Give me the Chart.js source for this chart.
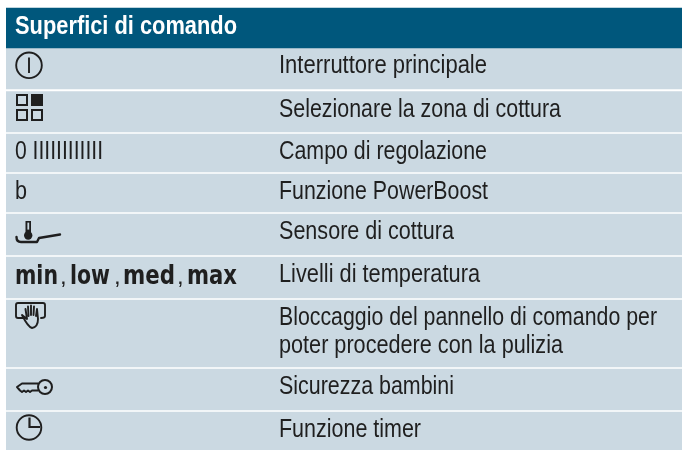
<!DOCTYPE html>
<html>
<head>
<meta charset="utf-8">
<style>
  html, body { margin: 0; padding: 0; background: #fff; }
  canvas { display: block; }
</style>
<script src="https://cdn.jsdelivr.net/npm/chart.js@4"></script>
</head>
<body>
<canvas id="table-chart" width="682" height="450"></canvas>
<script>
// Control panel table drawn as floating bars, one band per row on a reversed y axis.
const TITLE = 'Superfici di comando';
const ROW_TOPS    = [48, 91.5, 134, 174, 214, 257, 300, 369, 412];
const ROW_BOTTOMS = [89, 132, 172, 212, 255, 298, 367, 410, 450];
const HEADER_SPAN = [8, 48];
const ROW_SYMBOLS = ['power', 'zones', '0 IIIIIIIIIIII', 'b', 'sensor', 'levels', 'hand', 'key', 'clock'];
const ROW_TEXTS = [
  ['Interruttore principale'],
  ['Selezionare la zona di cottura'],
  ['Campo di regolazione'],
  ['Funzione PowerBoost'],
  ['Sensore di cottura'],
  ['Livelli di temperatura'],
  ['Bloccaggio del pannello di comando per', 'poter procedere con la pulizia'],
  ['Sicurezza bambini'],
  ['Funzione timer'],
];
const LEVELS = ['min', 'low', 'med', 'max'];

const HEADER_COLOR = '#00577c';
const ROW_COLOR    = '#cbd9e2';
const INK          = '#1f1f1f';
const BODY_FONT    = '"Liberation Sans", sans-serif';
// No narrow face is installed, so lines are squeezed to the width they have in the picture.
const TEXT_WIDTHS = {
  'Interruttore principale': 208,
  'Selezionare la zona di cottura': 282,
  'Campo di regolazione': 208,
  'Funzione PowerBoost': 209,
  'Sensore di cottura': 175,
  'Livelli di temperatura': 201,
  'Bloccaggio del pannello di comando per': 378,
  'poter procedere con la pulizia': 284,
  'Sicurezza bambini': 175,
  'Funzione timer': 142,
  '0 IIIIIIIIIIII': 88,
  'b': 12,
};

// ── Icons ── drawn relative to the row's top edge
const icons = {
  power(c, t) {
    c.lineWidth = 1.9;
    c.beginPath(); c.arc(29, t + 17.3, 12.8, 0, Math.PI * 2); c.stroke();
    c.beginPath(); c.moveTo(29, t + 9.5); c.lineTo(29, t + 25); c.stroke();
  },
  zones(c, t) {
    c.lineWidth = 2;
    c.strokeRect(17, t + 3.5, 10, 10);
    c.strokeRect(17, t + 18.5, 10, 10);
    c.strokeRect(32, t + 18.5, 10, 10);
    c.fillRect(31, t + 2.5, 12, 12);
  },
  sensor(c, t) {
    c.fillRect(25.5, t + 7, 5.5, 12);
    c.fillStyle = ROW_COLOR;
    c.fillRect(27.4, t + 8.6, 1.8, 7);
    c.fillStyle = INK;
    c.beginPath(); c.arc(28.2, t + 21.5, 4.2, 0, Math.PI * 2); c.fill();
    c.lineWidth = 2.4;
    c.lineJoin = 'round';
    c.lineCap = 'round';
    c.beginPath();
    c.moveTo(16.5, t + 23);
    c.quadraticCurveTo(16.5, t + 28, 21, t + 28);
    c.lineTo(37, t + 28);
    c.lineTo(39, t + 24);
    c.lineTo(60, t + 20.5);
    c.stroke();
  },
  hand(c, t) {
    c.lineWidth = 1.9;
    c.lineJoin = 'round';
    c.lineCap = 'round';
    c.beginPath();
    c.moveTo(23, t + 18);
    c.lineTo(18, t + 18);
    c.quadraticCurveTo(16, t + 18, 16, t + 16);
    c.lineTo(16, t + 5);
    c.quadraticCurveTo(16, t + 3, 18, t + 3);
    c.lineTo(43, t + 3);
    c.quadraticCurveTo(45, t + 3, 45, t + 5);
    c.lineTo(45, t + 16);
    c.quadraticCurveTo(45, t + 18, 41, t + 18);
    c.stroke();
    // hand
    c.beginPath();
    c.moveTo(22, t + 15);
    c.lineTo(27, t + 19);
    c.lineTo(25.5, t + 9);
    c.moveTo(28.5, t + 16);
    c.lineTo(28, t + 6.5);
    c.moveTo(31, t + 15);
    c.lineTo(31, t + 5.5);
    c.moveTo(33.5, t + 15);
    c.lineTo(34, t + 6.5);
    c.moveTo(36, t + 16);
    c.lineTo(37, t + 9);
    c.lineTo(38, t + 19);
    c.quadraticCurveTo(38, t + 27, 32, t + 28);
    c.quadraticCurveTo(28, t + 27, 22, t + 15);
    c.stroke();
  },
  key(c, t) {
    c.lineWidth = 2;
    c.lineJoin = 'round';
    c.beginPath(); c.arc(45, t + 18, 7, 0, Math.PI * 2); c.stroke();
    c.beginPath(); c.arc(45.5, t + 18.5, 1.6, 0, Math.PI * 2); c.fill();
    c.beginPath();
    c.moveTo(38.5, t + 14.5);
    c.lineTo(22, t + 14.5);
    c.lineTo(17, t + 18);
    c.lineTo(20, t + 21.5);
    c.lineTo(22, t + 23);
    c.lineTo(24, t + 21.5);
    c.lineTo(26, t + 23);
    c.lineTo(28, t + 21.5);
    c.lineTo(30, t + 23);
    c.lineTo(32, t + 21.5);
    c.lineTo(38.5, t + 21.5);
    c.stroke();
  },
  clock(c, t) {
    c.lineWidth = 1.9;
    c.beginPath(); c.arc(29, t + 15.5, 12.3, 0, Math.PI * 2); c.stroke();
    c.lineWidth = 2.2;
    c.beginPath();
    c.moveTo(29.5, t + 5.5);
    c.lineTo(29.5, t + 15);
    c.lineTo(40, t + 15);
    c.stroke();
  },
};

function drawLevels(c, base) {
  const starts = [15, 70, 123, 187];
  const widths = [43, 40, 52, 50];
  const commas = [60, 114, 177];
  LEVELS.forEach((word, i) => {
    c.font = 'bold 27px "DejaVu Sans", sans-serif';
    c.fillText(word, starts[i], base, widths[i]);
    if (i < commas.length) {
      c.font = '24px ' + BODY_FONT;
      c.fillText(',', commas[i], base);
    }
  });
}

// Writes all table text and icons once the bands are on the canvas.
const tableText = {
  id: 'tableText',
  afterDatasetsDraw(chart) {
    const c = chart.ctx;
    const y = chart.scales.y;
    c.save();
    c.textBaseline = 'alphabetic';
    c.fillStyle = '#fff';
    c.font = 'bold 25px ' + BODY_FONT;
    c.fillText(TITLE, 15, y.getPixelForValue(HEADER_SPAN[1]) - 14, 222);

    ROW_TOPS.forEach((top, i) => {
      const t = y.getPixelForValue(top);
      const sym = ROW_SYMBOLS[i];
      const base = t + 25.2;
      c.fillStyle = INK;
      c.strokeStyle = INK;
      c.font = '26px ' + BODY_FONT;
      ROW_TEXTS[i].forEach((line, n) => c.fillText(line, 279, base + n * 28, TEXT_WIDTHS[line]));
      c.save();
      if (icons[sym]) icons[sym](c, t);
      else if (sym === 'levels') drawLevels(c, t + 26.5);
      else c.fillText(sym, 15, base, TEXT_WIDTHS[sym]);
      c.restore();
    });
    c.restore();
  },
};

const bands = [HEADER_SPAN].concat(ROW_TOPS.map((top, i) => [top, ROW_BOTTOMS[i]]));

new Chart(document.getElementById('table-chart').getContext('2d'), {
  type: 'bar',
  data: {
    labels: [TITLE],
    datasets: bands.map((span, i) => ({
      label: i ? ROW_TEXTS[i - 1][0] : TITLE,
      data: [span],
      backgroundColor: i ? ROW_COLOR : HEADER_COLOR,
      borderWidth: 0,
      borderSkipped: false,
      grouped: false,
      barPercentage: 1,
      categoryPercentage: 1,
    })),
  },
  options: {
    responsive: false,
    animation: false,
    layout: { padding: { left: 6, right: 0, top: 0, bottom: 0 } },
    plugins: { legend: { display: false }, tooltip: { enabled: false } },
    scales: {
      x: { display: false },
      y: { display: false, reverse: true, min: 0, max: 450 },
    },
  },
  plugins: [tableText],
});
</script>
</body>
</html>
